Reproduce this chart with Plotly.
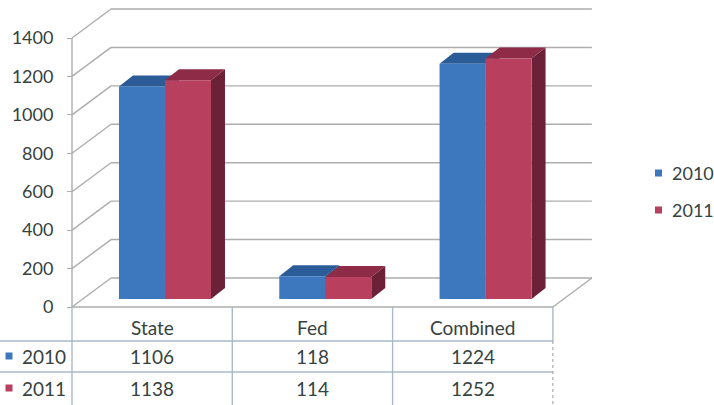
import plotly.graph_objects as go

# ---------------- data ----------------
categories = ["State", "Fed", "Combined"]
series_names = ["2010", "2011"]
values_2010 = [1106, 118, 1224]
values_2011 = [1138, 114, 1252]
y_ticks = [0, 200, 400, 600, 800, 1000, 1200, 1400]

series_values = [values_2010, values_2011]

# ---------------- styles ----------------
FRONT = ["#3d78be", "#b8405e"]
TOP = ["#2c5c98", "#8e2c48"]
SIDE = ["#24497a", "#6b2238"]
GRID = "#adadad"
TABLE_LINE = "#a9b9c9"
TEXT = "#36423f"
FONT = "Lato"

W, H = 714, 405
AX_LEFT_PX = 72          # pixel of x = -0.5 (front-left corner)
CAT_PX = 160.3           # pixels per category
ZERO_PX = 307            # pixel of value 0 on front plane
VAL_PX = 269 / 1400      # pixels per value unit

x_range = [-0.5 - AX_LEFT_PX / CAT_PX, -0.5 + (W - AX_LEFT_PX) / CAT_PX]
y_range = [-(H - ZERO_PX) / VAL_PX, ZERO_PX / VAL_PX]


def xpx(p):
    return x_range[0] + p / CAT_PX


def ypx(p):
    return (ZERO_PX - p) / VAL_PX


WALL_DX = 39 / CAT_PX
WALL_DY = 29 / VAL_PX
BAR_BASE = 8 / VAL_PX
BAR_W = 0.287
BAR_OFF = [-0.207, 0.08]
BAR_DX = 14 / CAT_PX
BAR_DY = 11 / VAL_PX

xs = list(range(len(categories)))
n = len(categories)
x_left, x_right = -0.5, n - 0.5

fig = go.Figure()
shapes = []
annotations = []


def line(x0, y0, x1, y1, color=GRID, width=1.4, dash=None):
    d = dict(type="line", xref="x", yref="y", x0=x0, y0=y0, x1=x1, y1=y1,
             line=dict(color=color, width=width), layer="below")
    if dash:
        d["line"]["dash"] = dash
    shapes.append(d)


# ---- walls ----
top_tick = max(y_ticks)
for t in y_ticks:
    line(x_left, t, x_left + WALL_DX, t + WALL_DY)
    line(x_left + WALL_DX, t + WALL_DY, x_right + WALL_DX, t + WALL_DY)
line(x_right, 0, x_right + WALL_DX, WALL_DY)
line(x_left, 0, x_right, 0)
line(x_left, 0, x_left, top_tick)

# ---- bar 3D faces (drawn under the front faces) ----
for s, vals in enumerate(series_values):
    for i, v in enumerate(vals):
        x0 = xs[i] + BAR_OFF[s]
        x1 = x0 + BAR_W
        top = BAR_BASE + v
        shapes.append(dict(
            type="path", xref="x", yref="y", layer="below",
            path=f"M {x0},{top} L {x1},{top} L {x1 + BAR_DX},{top + BAR_DY} "
                 f"L {x0 + BAR_DX},{top + BAR_DY} Z",
            fillcolor=TOP[s], line=dict(width=0)))
        shapes.append(dict(
            type="path", xref="x", yref="y", layer="below",
            path=f"M {x1},{BAR_BASE} L {x1},{top} L {x1 + BAR_DX},{top + BAR_DY} "
                 f"L {x1 + BAR_DX},{BAR_BASE + BAR_DY} Z",
            fillcolor=SIDE[s], line=dict(width=0)))

# ---- bars (front faces) ----
for s, vals in enumerate(series_values):
    fig.add_trace(go.Bar(
        x=xs, y=vals, base=BAR_BASE, offset=BAR_OFF[s], width=BAR_W,
        name=series_names[s], customdata=categories,
        hovertemplate="%{customdata}: %{y}<extra>" + series_names[s] + "</extra>",
        marker=dict(color=FRONT[s], line=dict(width=0)), showlegend=False))

# ---- data table ----
row_y = [ypx(341), ypx(372)]
for ry in row_y:
    line(x_range[0], ry, x_right, ry, color=TABLE_LINE, width=1.4)
for k in range(n + 1):
    xv = x_left + k
    if k == n:
        line(xv, 0, xv, row_y[0], color=TABLE_LINE, width=1.4)
        line(xv, row_y[0], xv, y_range[0], color="#9a9a9a", width=1, dash="dot")
    else:
        line(xv, 0, xv, y_range[0], color=TABLE_LINE, width=1.4)

header_y = ypx(327)
rows_y = [ypx(356), ypx(388)]
TABLE_FONT = dict(family=FONT, size=19, color=TEXT)
for i, c in enumerate(categories):
    annotations.append(dict(x=xs[i], y=header_y, xref="x", yref="y", text=c,
                            showarrow=False, font=TABLE_FONT))
for s, vals in enumerate(series_values):
    for i, v in enumerate(vals):
        annotations.append(dict(x=xs[i], y=rows_y[s], xref="x", yref="y", text=str(v),
                                showarrow=False, font=TABLE_FONT))
    shapes.append(dict(type="rect", xref="x", yref="y",
                       x0=xpx(5.5), x1=xpx(12.5),
                       y0=rows_y[s] - 3.5 / VAL_PX, y1=rows_y[s] + 3.5 / VAL_PX,
                       fillcolor=FRONT[s], line=dict(width=0)))
    annotations.append(dict(x=xpx(20), y=rows_y[s], xref="x", yref="y", text=series_names[s],
                            xanchor="left", showarrow=False,
                            font=dict(family=FONT, size=19, color=TEXT)))

# ---- legend (manual) ----
legend_y_px = [173, 210]
for s in range(len(series_names)):
    yc = 1 - legend_y_px[s] / H
    shapes.append(dict(type="rect", xref="paper", yref="paper",
                       x0=655 / W, x1=662 / W,
                       y0=yc - 3.5 / H, y1=yc + 3.5 / H,
                       fillcolor=FRONT[s], line=dict(width=0)))
    annotations.append(dict(x=670 / W, y=yc, xref="paper", yref="paper",
                            text=series_names[s], xanchor="left", showarrow=False,
                            font=dict(family=FONT, size=18, color=TEXT)))

fig.update_layout(
    width=W, height=H, autosize=False,
    margin=dict(l=0, r=0, t=0, b=0),
    paper_bgcolor="white", plot_bgcolor="rgba(0,0,0,0)",
    barmode="overlay",
    shapes=shapes, annotations=annotations,
    xaxis=dict(range=x_range, domain=[0, 1], visible=False, fixedrange=True),
    yaxis=dict(range=y_range, domain=[0, 1], anchor="free", position=AX_LEFT_PX / W,
               tickvals=y_ticks, ticks="outside", ticklen=5, tickcolor=GRID,
               showgrid=False, zeroline=False, showline=False,
               ticklabelstandoff=10,
               tickfont=dict(family=FONT, size=18, color=TEXT), fixedrange=True),
    font=dict(family=FONT, color=TEXT),
)

fig.write_html("out.html", config={"displayModeBar": False},
               post_script="document.body.style.margin='0';")
